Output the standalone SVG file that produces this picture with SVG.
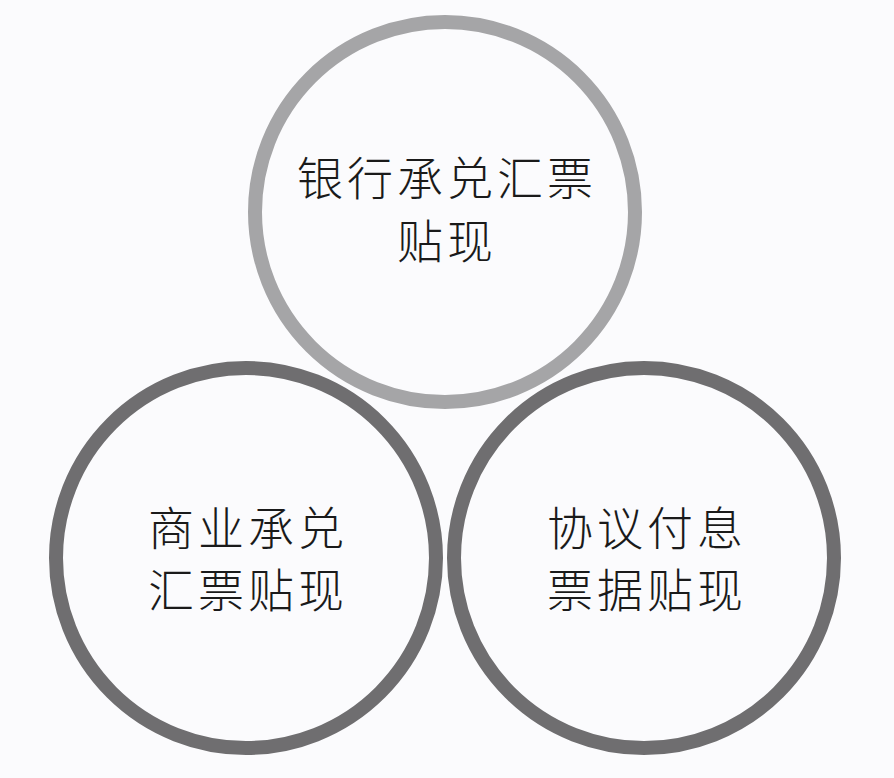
<svg xmlns="http://www.w3.org/2000/svg" width="894" height="778" viewBox="0 0 894 778">
  <style>
    .ring { fill: none; stroke-width: 14; }
    .light { stroke: #a5a5a7; }
    .dark { stroke: #6f6e70; }
    .label { font-family: "Noto Sans CJK SC", "Noto Sans", sans-serif; font-size: 46px; font-weight: 300; fill: #1a1a1a; text-anchor: middle; letter-spacing: 4px; }
  </style>
  <rect x="0" y="0" width="894" height="778" fill="#fbfbfd"/>
  <g id="node-commercial">
    <circle class="ring dark" cx="246" cy="558" r="190"/>
    <text class="label" x="248" y="545">商业承兑</text>
    <text class="label" x="248" y="607">汇票贴现</text>
  </g>
  <g id="node-agreement">
    <circle class="ring dark" cx="644" cy="558" r="190"/>
    <text class="label" x="647" y="545">协议付息</text>
    <text class="label" x="647" y="607">票据贴现</text>
  </g>
  <g id="node-bank">
    <circle class="ring light" cx="445" cy="212" r="190"/>
    <text class="label" x="447" y="195">银行承兑汇票</text>
    <text class="label" x="447" y="258">贴现</text>
  </g>
  <g id="connectors"></g>
</svg>
